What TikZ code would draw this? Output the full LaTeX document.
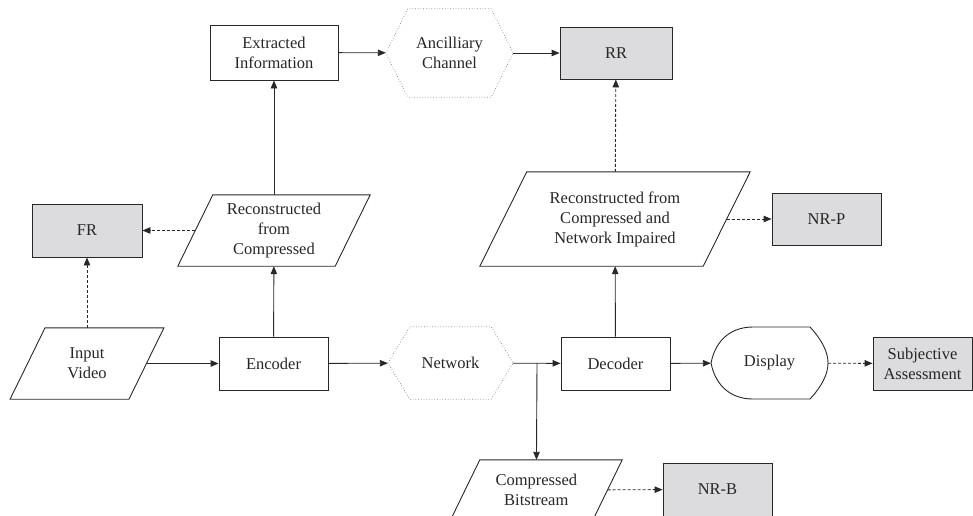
\documentclass[tikz,border=0pt]{standalone}
\usepackage{fontspec}
\setmainfont{Liberation Serif}
\usetikzlibrary{arrows.meta,calc}
\definecolor{boxgray}{RGB}{220,220,222}
\definecolor{linec}{RGB}{40,40,40}
\tikzset{
  txt/.style={font=\fontsize{16.5}{20}\selectfont, align=center, inner sep=0pt, text=black!85},
  box/.style={txt, draw=linec, line width=0.9pt, rectangle},
  metric/.style={box, fill=boxgray},
  ghost/.style={txt, draw=none, rectangle},
  outline/.style={draw=linec, line width=0.9pt},
  hexline/.style={draw=gray, line width=0.7pt, dotted},
  arr/.style={draw=linec, line width=0.9pt, -{Triangle[length=8pt,width=6.5pt]}},
  darr/.style={arr, dash pattern=on 3pt off 2pt},
}
\newcommand\paraline[2]{\draw[outline] ([xshift={-#2/2}]#1.south west) -- ([xshift={#2/2}]#1.north west) -- ([xshift={#2/2}]#1.north east) -- ([xshift={-#2/2}]#1.south east) -- cycle;}
\newcommand\hexline[2]{\draw[hexline] (#1.west) -- ([xshift=#2]#1.north west) -- ([xshift=-#2]#1.north east) -- (#1.east) -- ([xshift=-#2]#1.south east) -- ([xshift=#2]#1.south west) -- cycle;}
\begin{document}
\begin{tikzpicture}[x=1pt,y=-1pt]
\useasboundingbox (0,0) rectangle (973,515);
% nodes
\node[box, minimum width=128pt, minimum height=55pt] (ext) at (274,52.5) {Extracted\\Information};
\node[ghost, minimum width=127pt, minimum height=88pt] (anc) at (449.5,53) {Ancilliary\\Channel};
\node[metric, minimum width=112pt, minimum height=52pt] (rr) at (616,53) {RR};
\node[metric, minimum width=110pt, minimum height=53pt] (fr) at (87,230.5) {FR};
\node[ghost, minimum width=157pt, minimum height=71pt] (recc) at (274,230.5) {Reconstructed\\from\\Compressed};
\node[ghost, minimum width=223pt, minimum height=94pt] (recn) at (615,219) {Reconstructed from\\Compressed and\\Network Impaired};
\node[metric, minimum width=109pt, minimum height=52pt] (nrp) at (826.5,219) {NR-P};
\node[ghost, minimum width=118.5pt, minimum height=71pt] (inv) at (87,363.5) {Input\\Video};
\node[box, minimum width=109pt, minimum height=53pt] (enc) at (273.5,363.5) {Encoder};
\node[ghost, minimum width=125pt, minimum height=72pt] (net) at (450.5,363) {Network};
\node[box, minimum width=109pt, minimum height=53pt] (dec) at (615.5,363.5) {Decoder};
\node[ghost, minimum width=117pt, minimum height=72pt] (disp) at (769.5,363) {Display};
\node[metric, minimum width=99pt, minimum height=53pt] (sa) at (922.5,363.5) {Subjective\\Assessment};
\node[ghost, minimum width=142pt, minimum height=60pt] (cb) at (536.3,490) {Compressed\\Bitstream};
\node[metric, minimum width=109pt, minimum height=53pt] (nrb) at (717.5,489.5) {NR-B};
\coordinate (br) at (537,363);
% outlines
\paraline{recc}{35}
\paraline{recn}{47}
\paraline{inv}{35}
\paraline{cb}{29.4}
\hexline{anc}{22}
\hexline{net}{22}
\draw[outline] (711,363) .. controls (716,338) and (733,327) .. (753,327) -- (810,327)
  .. controls (822,340) and (828,352) .. (828,363)
  .. controls (828,374) and (822,386) .. (810,399) -- (753,399)
  .. controls (733,399) and (716,388) .. (711,363) -- cycle;
% connectors
\draw[arr] (ext) -- (anc);
\draw[arr] (anc) -- (rr);
\draw[arr] (recc) -- (ext);
\draw[darr] (recc) -- (fr);
\draw[darr] (inv) -- (fr);
\draw[arr] (inv) -- (enc);
\draw[arr] (enc) -- (recc);
\draw[arr] (enc) -- (net);
\draw[arr] (net) -- (dec);
\draw[arr] (br) -- (cb);
\draw[darr] (cb) -- (nrb);
\draw[arr] (dec) -- (recn);
\draw[darr] (recn) -- (rr);
\draw[darr] (recn) -- (nrp);
\draw[arr] (dec) -- (disp);
\draw[darr] (disp) -- (sa);
\end{tikzpicture}
\end{document}
